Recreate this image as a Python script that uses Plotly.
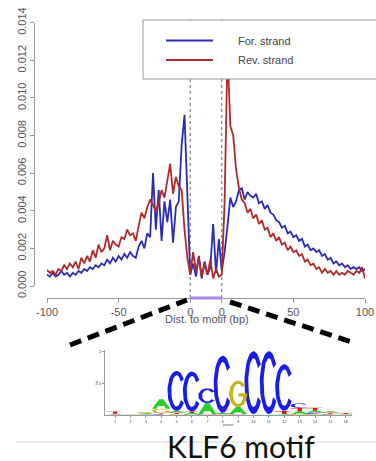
import numpy as np
import plotly.graph_objects as go

# ---------------- data ----------------
pos = list(range(-100, 123, 2))  # motif occupies 0..22 (plotted between the two "0" ticks)

for_strand = [
    0.0006, 0.0005, 0.0007, 0.0005, 0.0006, 0.0008, 0.0006, 0.0007, 0.0005, 0.0007,
    0.0006, 0.0008, 0.0007, 0.0009, 0.0008, 0.0010, 0.0009, 0.0011, 0.0010, 0.0012,
    0.0011, 0.0014, 0.0012, 0.0015, 0.0013, 0.0016, 0.0014, 0.0017, 0.0015, 0.0018,
    0.0016, 0.0015, 0.0021, 0.0024, 0.0020, 0.0028, 0.0026, 0.0060, 0.0030, 0.0051,
    0.0024, 0.0045, 0.0034, 0.0046, 0.0023, 0.0042, 0.0045, 0.0075, 0.0091, 0.0050,
    0.0006,
    0.0012, 0.0005, 0.0016, 0.0004, 0.0013, 0.0006, 0.0010, 0.0033, 0.0007, 0.0025,
    0.0008,
    0.0018, 0.0032, 0.0047, 0.0042, 0.0045, 0.0051, 0.0052, 0.0046, 0.0050, 0.0048,
    0.0047, 0.0049, 0.0044, 0.0045, 0.0041, 0.0043, 0.0039, 0.0038, 0.0035, 0.0034,
    0.0031, 0.0032, 0.0028, 0.0029, 0.0026, 0.0027, 0.0024, 0.0025, 0.0021, 0.0022,
    0.0019, 0.0020, 0.0018, 0.0019, 0.0016, 0.0017, 0.0014, 0.0015, 0.0012, 0.0013,
    0.0011, 0.0012, 0.0010, 0.0011, 0.0009, 0.0010, 0.0009, 0.0010, 0.0008, 0.0009,
]

rev_strand = [
    0.00085, 0.0007, 0.0008, 0.0006, 0.0009, 0.0008, 0.0011, 0.0009, 0.0012, 0.0010,
    0.0013, 0.0009, 0.0015, 0.0012, 0.0016, 0.0013, 0.0019, 0.0015, 0.0022, 0.0018,
    0.0020, 0.0027, 0.0019, 0.0024, 0.0022, 0.0021, 0.0026, 0.0025, 0.0030, 0.0027,
    0.0028, 0.0024, 0.0032, 0.0039, 0.0036, 0.0042, 0.0046, 0.0043, 0.0040, 0.0044,
    0.0051, 0.0047, 0.0055, 0.0065, 0.0049, 0.0058, 0.0053, 0.0051, 0.0030, 0.0015,
    0.0006,
    0.0018, 0.0008, 0.0015, 0.0005, 0.0012, 0.0006, 0.0014, 0.0004, 0.0009, 0.0005,
    0.0006,
    0.0045, 0.0125, 0.0085, 0.0080, 0.0062, 0.0052, 0.0046, 0.0044, 0.0039, 0.0041,
    0.0036, 0.0038, 0.0033, 0.0035, 0.0030, 0.0031, 0.0026, 0.0028, 0.0024, 0.0026,
    0.0022, 0.0023, 0.0019, 0.0021, 0.0018, 0.0019, 0.0016, 0.0017, 0.0013, 0.0014,
    0.0011, 0.0012, 0.0009, 0.0010, 0.0007, 0.0009, 0.0007, 0.0008, 0.0006, 0.0008,
    0.0006, 0.0007, 0.0006, 0.0008, 0.0007, 0.0006, 0.0008, 0.0007, 0.0010, 0.0004,
]

series_names = ["For. strand", "Rev. strand"]
motif_start, motif_end = 0, 22
x_tickvals = [-100, -50, 0, 22, 72, 122]
x_ticktext = ["-100", "-50", "0", "0", "50", "100"]
y_tickvals = [0.000, 0.002, 0.004, 0.006, 0.008, 0.010, 0.012, 0.014]
x_title = "Dist. to motif (bp)"

# sequence logo (bits per nucleotide at each motif position)
logo_positions = list(range(1, 17))
logo_A = [0.02, 0.01, 0.03, 0.30, 0.06, 0.05, 0.35, 0.05, 0.23, 0.01, 0.01, 0.02, 0.10, 0.06, 0.05, 0.01]
logo_C = [0.01, 0.01, 0.01, 0.02, 1.26, 1.26, 0.47, 1.80, 0.01, 1.98, 1.98, 1.47, 0.15, 0.05, 0.02, 0.01]
logo_G = [0.01, 0.01, 0.03, 0.15, 0.03, 0.01, 0.01, 0.01, 0.83, 0.01, 0.01, 0.01, 0.02, 0.03, 0.02, 0.01]
logo_T = [0.07, 0.02, 0.02, 0.03, 0.04, 0.05, 0.01, 0.01, 0.01, 0.01, 0.01, 0.10, 0.10, 0.09, 0.03, 0.03]
logo_title = "KLF6 motif"

# ---------------- styling helpers ----------------
W, H = 376, 461
def px(x):
    return x / W
def py(y):
    return 1 - y / H

BLUE = "#2b2bb5"
RED = "#b02a2a"
AXC = "#999999"
TXT = "#555555"
FONT = "Liberation Sans, Arial, sans-serif"
letter_colors = {"A": "#2ccc2c", "C": "#1c1ce8", "G": "#c8b414", "T": "#e01010"}

fig = go.Figure()
fig.add_trace(go.Scatter(x=pos, y=for_strand, mode="lines", name=series_names[0],
                         line=dict(color=BLUE, width=1.8), hoverinfo="skip"))
fig.add_trace(go.Scatter(x=pos, y=rev_strand, mode="lines", name=series_names[1],
                         line=dict(color=RED, width=1.8), hoverinfo="skip"))

# ---------------- logo glyphs ----------------
def arc(a0, a1, rx, ry, n=36):
    t = np.radians(np.linspace(a0, a1, n))
    return list(0.5 + rx * np.cos(t)), list(0.5 + ry * np.sin(t))

def glyph(letter):
    if letter == "C":
        ox, oy = arc(36, 324, 0.5, 0.5)
        ix, iy = arc(324, 36, 0.29, 0.39)
        return [(ox + ix, oy + iy)]
    if letter == "G":
        ox, oy = arc(40, 360, 0.5, 0.5)
        ix, iy = arc(360, 40, 0.29, 0.39)
        bar = ([0.52, 1.0, 1.0, 0.52], [0.40, 0.40, 0.53, 0.53])
        return [(ox + ix, oy + iy), bar]
    if letter == "A":
        return [([0, 0.38, 0.62, 1, 0.76, 0.67, 0.33, 0.24], [0, 1, 1, 0, 0, 0.27, 0.27, 0])]
    return [([0, 1, 1, 0.62, 0.62, 0.38, 0.38, 0], [1, 1, 0.84, 0.84, 0, 0, 0.84, 0.84])]

heights = {"A": logo_A, "C": logo_C, "G": logo_G, "T": logo_T}
lw = 1.18
poly = {L: ([], []) for L in "ACGT"}
for i, p in enumerate(logo_positions):
    stack = sorted("ACGT", key=lambda L: heights[L][i])
    y0 = 0.0
    for L in stack:
        h = heights[L][i]
        for gx, gy in glyph(L):
            poly[L][0].extend([p - lw / 2 + g * lw for g in gx] + [None])
            poly[L][1].extend([y0 + g * h for g in gy] + [None])
        y0 += h
for L in "ACGT":
    fig.add_trace(go.Scatter(x=poly[L][0], y=poly[L][1], mode="lines", fill="toself",
                             fillcolor=letter_colors[L], line=dict(width=0, color=letter_colors[L]),
                             xaxis="x2", yaxis="y2", hoverinfo="skip", showlegend=False))

# ---------------- layout ----------------
shapes = [
    dict(type="line", xref="x", yref="paper", x0=motif_start, x1=motif_start, y0=py(298), y1=py(18),
         line=dict(color="#888", width=1.3, dash="dot"), layer="below"),
    dict(type="line", xref="x", yref="paper", x0=motif_end, x1=motif_end, y0=py(298), y1=py(18),
         line=dict(color="#888", width=1.3, dash="dot"), layer="below"),
    dict(type="line", xref="x", yref="paper", x0=motif_start, x1=motif_end, y0=py(298), y1=py(298),
         line=dict(color="#a987e8", width=3), layer="above"),
    dict(type="rect", xref="paper", yref="paper", x0=px(143), x1=1.02, y0=py(79), y1=py(20),
         fillcolor="white", line=dict(color=AXC, width=1), layer="above"),
    dict(type="line", xref="paper", yref="paper", x0=px(166), x1=px(213), y0=py(40.5), y1=py(40.5),
         line=dict(color=BLUE, width=1.8), layer="above"),
    dict(type="line", xref="paper", yref="paper", x0=px(166), x1=px(213), y0=py(60), y1=py(60),
         line=dict(color=RED, width=1.8), layer="above"),
    dict(type="line", xref="paper", yref="paper", x0=px(70), y0=py(345), x1=px(187), y1=py(300),
         line=dict(color="black", width=5, dash="12px,7px"), layer="above"),
    dict(type="line", xref="paper", yref="paper", x0=px(230), y0=py(302), x1=px(355), y1=py(343),
         line=dict(color="black", width=5, dash="12px,7px"), layer="above"),
    dict(type="line", xref="paper", yref="paper", x0=px(17), x1=1, y0=py(442), y1=py(442),
         line=dict(color="#d4d4d4", width=1), layer="below"),
]

annotations = [
    dict(x=px(207), y=py(319), xref="paper", yref="paper", text=x_title, showarrow=False,
         xanchor="center", yanchor="middle", font=dict(size=11, color=TXT, family=FONT)),
    dict(x=px(236), y=py(40.5), xref="paper", yref="paper", text=series_names[0], showarrow=False,
         xanchor="left", yanchor="middle", font=dict(size=11, color="#444", family=FONT)),
    dict(x=px(236), y=py(60), xref="paper", yref="paper", text=series_names[1], showarrow=False,
         xanchor="left", yanchor="middle", font=dict(size=11, color="#444", family=FONT)),
    dict(x=px(241), y=py(446), xref="paper", yref="paper", text=logo_title, showarrow=False,
         xanchor="center", yanchor="middle", font=dict(size=30, color="#111", family="Lato, sans-serif")),
    dict(x=px(97), y=py(383), xref="paper", yref="paper", text="bits", showarrow=False, textangle=-90,
         xanchor="center", yanchor="middle", font=dict(size=3, color="#444", family=FONT)),
    dict(x=px(228), y=py(425), xref="paper", yref="paper", text="position", showarrow=False,
         xanchor="center", yanchor="middle", font=dict(size=3, color="#444", family=FONT)),
]

fig.update_layout(
    template="none",
    width=W, height=H,
    margin=dict(l=0, r=0, t=0, b=0, pad=0),
    paper_bgcolor="white", plot_bgcolor="white",
    showlegend=False,
    font=dict(family=FONT, color=TXT),
    xaxis=dict(domain=[px(47), px(365)], range=[-100, 122], anchor="free", position=py(298),
               showline=True, linecolor=AXC, linewidth=1, ticks="outside", ticklen=4, tickcolor=AXC,
               tickvals=x_tickvals, ticktext=x_ticktext, tickfont=dict(size=11, color=TXT),
               color=TXT, showgrid=False, zeroline=False, automargin=False),
    yaxis=dict(domain=[py(286), py(22.7)], range=[0, 0.014], anchor="free", position=px(34),
               showline=True, linecolor=AXC, linewidth=1, ticks="outside", ticklen=4, tickcolor=AXC,
               tickvals=y_tickvals, tickformat=".3f", tickangle=-90, tickfont=dict(size=11, color=TXT),
               color=TXT, showgrid=False, zeroline=False, automargin=False),
    xaxis2=dict(domain=[px(105), px(352)], range=[0.35, 16.4], anchor="y2",
                showline=True, linecolor=AXC, linewidth=0.8, ticks="outside", ticklen=2, tickcolor=AXC,
                tickvals=logo_positions, tickfont=dict(size=4, color="#444"),
                showgrid=False, zeroline=False, automargin=False),
    yaxis2=dict(domain=[py(415), py(350)], range=[0, 2.05], anchor="x2",
                showline=True, linecolor=AXC, linewidth=0.8, ticks="outside", ticklen=2, tickcolor=AXC,
                tickvals=[1, 2], tickfont=dict(size=4, color="#444"),
                showgrid=False, zeroline=False, automargin=False),
    shapes=shapes,
    annotations=annotations,
)

fig.write_html("out.html", config={"displayModeBar": False},
               post_script="document.body.style.margin='0px';document.body.style.padding='0px';")
